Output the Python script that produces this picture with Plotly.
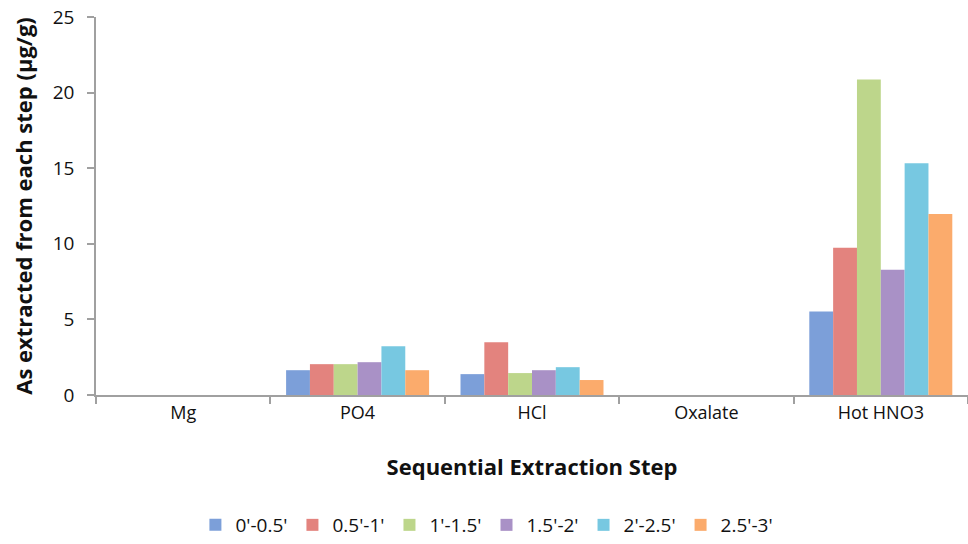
import plotly.graph_objects as go

categories = ["Mg", "PO4", "HCl", "Oxalate", "Hot HNO3"]
series_names = ["0'-0.5'", "0.5'-1'", "1'-1.5'", "1.5'-2'", "2'-2.5'", "2.5'-3'"]
s0 = [0, 1.64, 1.38, 0, 5.53]
s1 = [0, 2.04, 3.49, 0, 9.74]
s2 = [0, 2.04, 1.45, 0, 20.86]
s3 = [0, 2.17, 1.64, 0, 8.29]
s4 = [0, 3.22, 1.84, 0, 15.33]
s5 = [0, 1.64, 0.99, 0, 11.97]
series_values = [s0, s1, s2, s3, s4, s5]
colors = ["#7c9fd9", "#e3837e", "#bdd68b", "#a991c6", "#77c8e1", "#fbab6c"]
y_ticks = [0, 5, 10, 15, 20, 25]

font = "Open Sans"
fig = go.Figure()
for name, vals, c in zip(series_names, series_values, colors):
    fig.add_trace(go.Bar(x=categories, y=vals, name=name,
                         marker=dict(color=c, line=dict(width=0))))

fig.update_layout(
    width=968, height=544,
    margin=dict(l=96, r=0, t=17, b=147),
    plot_bgcolor="white", paper_bgcolor="white",
    barmode="group", bargap=0.18, bargroupgap=0,
    font=dict(family=font, size=18, color="#111"),
    legend=dict(orientation="h", x=0.114, xanchor="left", y=-0.345, yanchor="middle",
                font=dict(size=19), itemwidth=30, traceorder="normal"),
    showlegend=True,
)
fig.update_xaxes(
    showline=True, linecolor="#a0a0a0", linewidth=2,
    ticks="outside", tickson="boundaries", ticklen=7, tickcolor="#a0a0a0", tickwidth=2,
    showgrid=False, automargin=False, tickfont=dict(size=18),
    title=dict(text="<b>Sequential Extraction Step</b>", font=dict(size=22), standoff=37),
)
fig.update_yaxes(
    range=[0, 25], tickvals=y_ticks, showline=True, linecolor="#a0a0a0", linewidth=1.5,
    ticks="outside", ticklen=7, tickcolor="#a0a0a0", tickwidth=1.5, showgrid=False, zeroline=False,
    automargin=False, tickfont=dict(size=19), ticklabelstandoff=9,
    title=dict(text="<b>As extracted from each step (µg/g)</b>", font=dict(size=22), standoff=14),
)
fig.write_html("out.html")
